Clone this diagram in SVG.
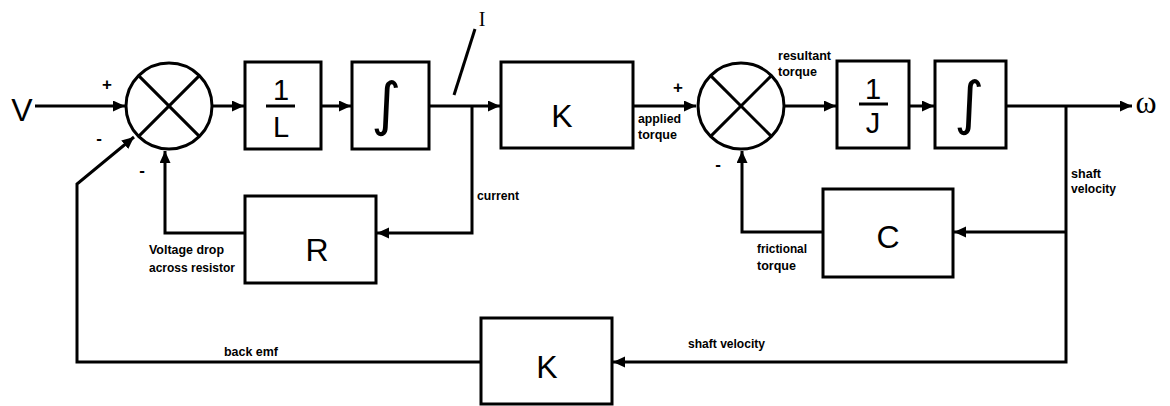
<svg xmlns="http://www.w3.org/2000/svg" width="1170" height="406" viewBox="0 0 1170 406">
<style>
.box{fill:#fff;stroke:#000;stroke-width:3}
.sum{fill:#fff;stroke:#000;stroke-width:3}
.x{stroke:#000;stroke-width:3}
.ln{fill:none;stroke:#000;stroke-width:3;stroke-linejoin:miter}
.arr{marker-end:url(#ah)}
.big{font-family:"Liberation Sans",Arial,sans-serif;font-size:32px;text-anchor:middle}
.mid{font-family:"Liberation Sans",Arial,sans-serif;font-size:29px;text-anchor:middle}
.int{font-family:"DejaVu Sans",sans-serif;font-size:58px;text-anchor:middle}
.lbl{font-family:"Liberation Sans",Arial,sans-serif;font-size:12px;font-weight:bold}
.sg{font-family:"Liberation Sans",Arial,sans-serif;font-size:17px;font-weight:bold;text-anchor:middle}
.ser{font-family:"Liberation Serif","Times New Roman",serif}
</style>
<defs>
<marker id="ah" markerUnits="userSpaceOnUse" markerWidth="13" markerHeight="12" refX="12" refY="5.5" orient="auto">
<path d="M0,0 L12,5.5 L0,11 z" fill="#000"/>
</marker>
</defs>

<g id="connectors">
<line class="ln arr" x1="35" y1="106" x2="125" y2="106"/>
<line class="ln arr" x1="212" y1="106" x2="244" y2="106"/>
<line class="ln arr" x1="321" y1="106" x2="351" y2="106"/>
<line class="ln arr" x1="429" y1="106" x2="500" y2="106"/>
<line class="ln" x1="475" y1="29" x2="454" y2="95" stroke-width="2.5"/>
<polyline class="ln arr" points="472,106 472,233 377,233"/>
<polyline class="ln arr" points="245,233 165,233 165,151"/>
<line class="ln arr" x1="633" y1="106" x2="696" y2="106"/>
<line class="ln arr" x1="785" y1="106" x2="836" y2="106"/>
<line class="ln arr" x1="909" y1="106" x2="934" y2="106"/>
<line class="ln arr" x1="1006" y1="106" x2="1132" y2="106"/>
<polyline class="ln arr" points="1066,106 1066,362 613,362"/>
<line class="ln arr" x1="1066" y1="232" x2="954" y2="232"/>
<polyline class="ln arr" points="823,232 742,232 742,151"/>
<polyline class="ln arr" points="481,362 77,362 77,184 134,137"/>
</g>

<g id="sum1">
<circle class="sum" cx="169" cy="106" r="43"/>
<line class="x" x1="138.6" y1="75.6" x2="199.4" y2="136.4"/>
<line class="x" x1="199.4" y1="75.6" x2="138.6" y2="136.4"/>
</g>
<g id="sum2">
<circle class="sum" cx="741" cy="106" r="43"/>
<line class="x" x1="710.6" y1="75.6" x2="771.4" y2="136.4"/>
<line class="x" x1="771.4" y1="75.6" x2="710.6" y2="136.4"/>
</g>

<g id="inv-L">
<rect class="box" x="245" y="62" width="76" height="87"/>
<text class="mid" x="281" y="100">1</text>
<line class="x" x1="266" y1="106" x2="295" y2="106"/>
<text class="mid" x="281" y="137">L</text>
</g>
<g id="int1">
<rect class="box" x="352" y="62" width="77" height="87"/>
<text class="int" x="386" y="124">∫</text>
</g>
<g id="K1">
<rect class="box" x="501" y="62" width="132" height="86"/>
<text class="big" x="562" y="127" font-size="27">K</text>
</g>
<g id="inv-J">
<rect class="box" x="837" y="61" width="72" height="87"/>
<text class="mid" x="873" y="99" font-size="27">1</text>
<line class="x" x1="859" y1="104" x2="888" y2="104"/>
<text class="mid" x="873" y="133" font-size="27">J</text>
</g>
<g id="int2">
<rect class="box" x="935" y="61" width="71" height="87"/>
<text class="int" x="969" y="123">∫</text>
</g>
<g id="R">
<rect class="box" x="245" y="196" width="131" height="87"/>
<text class="big" x="317" y="261">R</text>
</g>
<g id="C">
<rect class="box" x="823" y="189" width="130" height="88"/>
<text class="big" x="888" y="248">C</text>
</g>
<g id="K2">
<rect class="box" x="481" y="318" width="131" height="86"/>
<text class="big" x="547" y="378">K</text>
</g>

<g id="labels">
<text class="big" x="22" y="121" font-size="31">V</text>
<text class="ser" x="1146" y="113" font-size="32" text-anchor="middle">ω</text>
<text class="ser" x="482" y="26" font-size="20" text-anchor="middle">I</text>
<text class="sg" x="107" y="90">+</text>
<text class="sg" x="678" y="93">+</text>
<text class="sg" x="99" y="144">-</text>
<text class="sg" x="142" y="176">-</text>
<text class="sg" x="718" y="170">-</text>
<text class="lbl" x="149" y="254" textLength="75" lengthAdjust="spacingAndGlyphs">Voltage drop</text>
<text class="lbl" x="149" y="272" textLength="86" lengthAdjust="spacingAndGlyphs">across resistor</text>
<text class="lbl" x="224" y="356" textLength="54" lengthAdjust="spacingAndGlyphs">back emf</text>
<text class="lbl" x="477" y="200" textLength="42" lengthAdjust="spacingAndGlyphs">current</text>
<text class="lbl" x="638" y="123" textLength="43" lengthAdjust="spacingAndGlyphs">applied</text>
<text class="lbl" x="638" y="139" textLength="39" lengthAdjust="spacingAndGlyphs">torque</text>
<text class="lbl" x="778" y="60" textLength="53" lengthAdjust="spacingAndGlyphs">resultant</text>
<text class="lbl" x="778" y="76" textLength="39" lengthAdjust="spacingAndGlyphs">torque</text>
<text class="lbl" x="757" y="253" textLength="50" lengthAdjust="spacingAndGlyphs">frictional</text>
<text class="lbl" x="757" y="270" textLength="39" lengthAdjust="spacingAndGlyphs">torque</text>
<text class="lbl" x="688" y="348" textLength="77" lengthAdjust="spacingAndGlyphs">shaft velocity</text>
<text class="lbl" x="1071" y="178" textLength="30" lengthAdjust="spacingAndGlyphs">shaft</text>
<text class="lbl" x="1071" y="193" textLength="45" lengthAdjust="spacingAndGlyphs">velocity</text>
</g>
</svg>
